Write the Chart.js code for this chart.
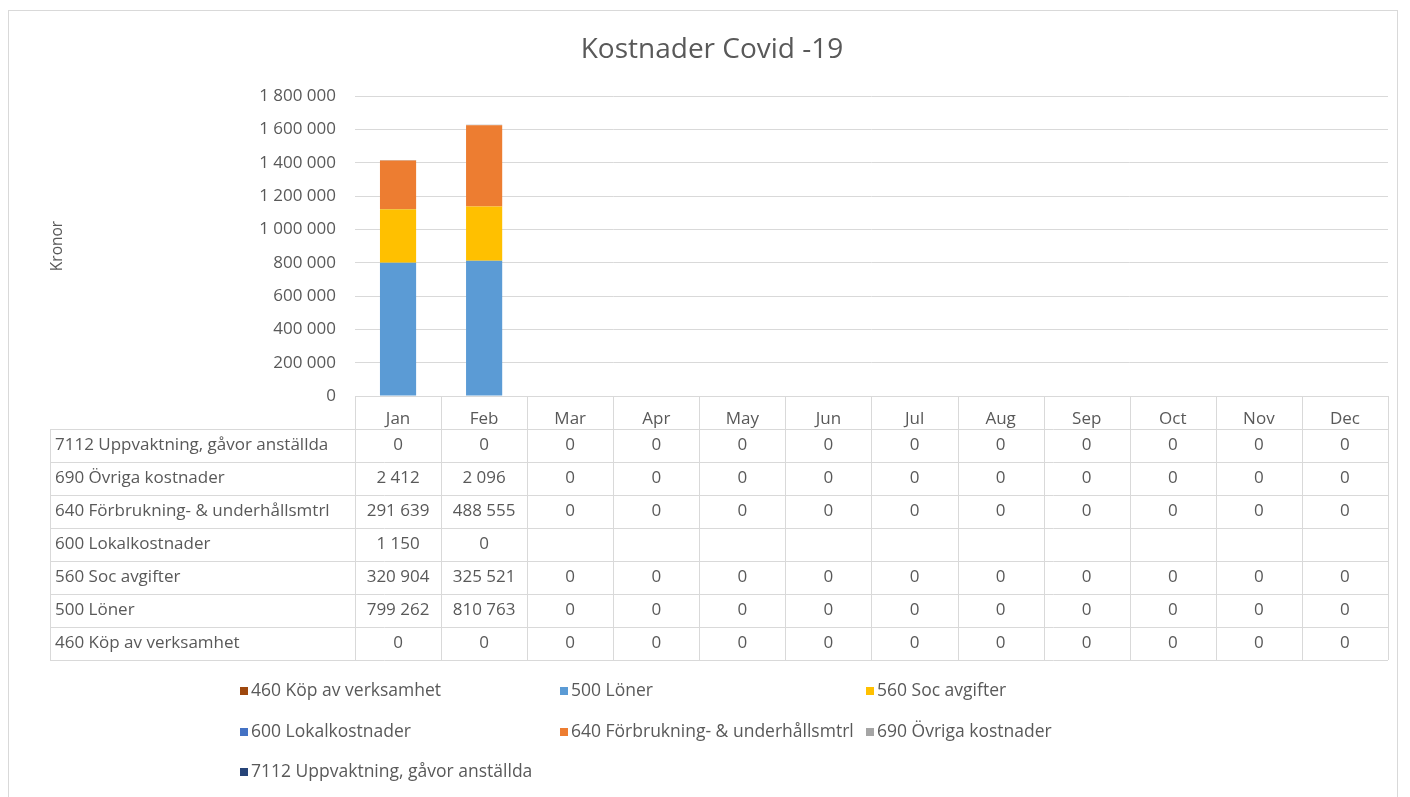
<!DOCTYPE html>
<html lang="sv">
<head>
<meta charset="UTF-8">
<title>Kostnader Covid -19</title>
<script src="https://cdn.jsdelivr.net/npm/chart.js"></script>
<style>
  html, body { margin: 0; padding: 0; background: #fff; }
  #wrap { width: 1410px; height: 797px; position: relative; }
</style>
</head>
<body>
<div id="wrap"><canvas id="kostnadChart"></canvas></div>
<script>
// data
const months = ['Jan', 'Feb', 'Mar', 'Apr', 'May', 'Jun', 'Jul', 'Aug', 'Sep', 'Oct', 'Nov', 'Dec'];
const konto460 = [0, 0, 0, 0, 0, 0, 0, 0, 0, 0, 0, 0];
const konto500 = [799262, 810763, 0, 0, 0, 0, 0, 0, 0, 0, 0, 0];
const konto560 = [320904, 325521, 0, 0, 0, 0, 0, 0, 0, 0, 0, 0];
const konto600 = [1150, 0, null, null, null, null, null, null, null, null, null, null];
const konto640 = [291639, 488555, 0, 0, 0, 0, 0, 0, 0, 0, 0, 0];
const konto690 = [2412, 2096, 0, 0, 0, 0, 0, 0, 0, 0, 0, 0];
const konto7112 = [0, 0, 0, 0, 0, 0, 0, 0, 0, 0, 0, 0];
const seriesNames = ['460 Köp av verksamhet', '500 Löner', '560 Soc avgifter', '600 Lokalkostnader',
    '640 Förbrukning- & underhållsmtrl', '690 Övriga kostnader', '7112 Uppvaktning, gåvor anställda'];
const seriesColors = ['#9E480E', '#5B9BD5', '#FFC000', '#4472C4', '#ED7D31', '#A5A5A5', '#264478'];
const yMax = 1800000;
const yStep = 200000;

const FONT = '"Open Sans", "Noto Sans", sans-serif';
const TXT = '#595959';
const LINE = '#d9d9d9';

// 1 234 567
function fmt(v) {
    return String(v).replace(/\B(?=(\d{3})+(?!\d))/g, ' ');
}

const seriesData = [konto460, konto500, konto560, konto600, konto640, konto690, konto7112];

// tabell + legend under diagrammet
const tablePlugin = {
    id: 'dataTable',
    beforeDraw(chart) {
        const ctx = chart.ctx;
        ctx.save();
        ctx.fillStyle = '#fff';
        ctx.fillRect(0, 0, chart.width, chart.height);
        ctx.strokeStyle = LINE;
        ctx.lineWidth = 1;
        ctx.strokeRect(8.5, 10.5, 1389, 820);
        ctx.restore();
    },
    afterDraw(chart) {
        const ctx = chart.ctx;
        const x = chart.scales.x;
        const area = chart.chartArea;
        const colW = x.getPixelForValue(1) - x.getPixelForValue(0);
        const rowH = x.height;
        const headTop = area.bottom;
        const headBottom = headTop + rowH;
        const tableLeft = 50;
        const rowOrder = [6, 5, 4, 3, 2, 1, 0];
        const tableBottom = headBottom + rowOrder.length * rowH;

        ctx.save();
        ctx.strokeStyle = LINE;
        ctx.lineWidth = 1;
        ctx.beginPath();
        // horisontella linjer
        for (let r = 0; r <= rowOrder.length; r++) {
            const y = Math.round(headBottom + r * rowH) + 0.5;
            ctx.moveTo(tableLeft, y);
            ctx.lineTo(area.right, y);
        }
        // vertikala linjer
        for (let i = 0; i <= months.length; i++) {
            const cx = Math.round(area.left + i * colW) + 0.5;
            ctx.moveTo(cx, headTop);
            ctx.lineTo(cx, tableBottom);
        }
        ctx.moveTo(tableLeft + 0.5, headBottom);
        ctx.lineTo(tableLeft + 0.5, tableBottom);
        ctx.stroke();

        ctx.fillStyle = TXT;
        ctx.font = '17px ' + FONT;
        ctx.textBaseline = 'middle';
        rowOrder.forEach((s, r) => {
            const cy = headBottom + r * rowH + rowH / 2;
            ctx.textAlign = 'left';
            ctx.fillText(seriesNames[s], tableLeft + 5, cy);
            ctx.textAlign = 'center';
            seriesData[s].forEach((v, i) => {
                if (v === null) return;
                ctx.fillText(fmt(v), x.getPixelForValue(i), cy);
            });
        });

        // legend
        const legX = [240, 560, 866];
        const legY = [691, 732, 772];
        ctx.font = '17.5px ' + FONT;
        seriesNames.forEach((name, i) => {
            const lx = legX[i % 3];
            const ly = legY[Math.floor(i / 3)];
            ctx.fillStyle = seriesColors[i];
            ctx.fillRect(lx, ly - 4, 8, 8);
            ctx.fillStyle = TXT;
            ctx.textAlign = 'left';
            ctx.fillText(name, lx + 11, ly);
        });
        ctx.restore();
    }
};

new Chart(document.getElementById('kostnadChart'), {
    type: 'bar',
    data: {
        labels: months,
        datasets: seriesNames.map((name, i) => ({
            label: name,
            data: seriesData[i],
            backgroundColor: seriesColors[i],
            borderWidth: 0,
            barPercentage: 0.42,
            categoryPercentage: 1
        }))
    },
    options: {
        responsive: true,
        maintainAspectRatio: false,
        animation: false,
        layout: { padding: { left: 36, right: 22, top: 0, bottom: 368 } },
        plugins: {
            legend: { display: false },
            tooltip: { enabled: false },
            title: {
                display: true,
                text: 'Kostnader Covid -19',
                color: TXT,
                font: { family: FONT, size: 28, weight: 'normal' },
                padding: { top: 33, bottom: 29.4 }
            }
        },
        scales: {
            x: {
                stacked: true,
                grid: { display: false },
                border: { display: true, color: LINE },
                ticks: { color: TXT, font: { family: FONT, size: 17 }, padding: 5 },
                afterFit: s => { s.height = 33; }
            },
            y: {
                stacked: true,
                min: 0,
                max: yMax,
                grid: { color: LINE, drawTicks: false },
                border: { display: false },
                ticks: {
                    stepSize: yStep,
                    color: TXT,
                    padding: 19,
                    font: { family: FONT, size: 17 },
                    callback: v => fmt(v)
                },
                title: {
                    display: true,
                    text: 'Kronor',
                    color: TXT,
                    font: { family: FONT, size: 15.5 },
                    padding: { top: 12, bottom: 0 }
                },
                afterFit: s => { s.width = 319; }
            }
        }
    },
    plugins: [tablePlugin]
});
</script>
</body>
</html>
